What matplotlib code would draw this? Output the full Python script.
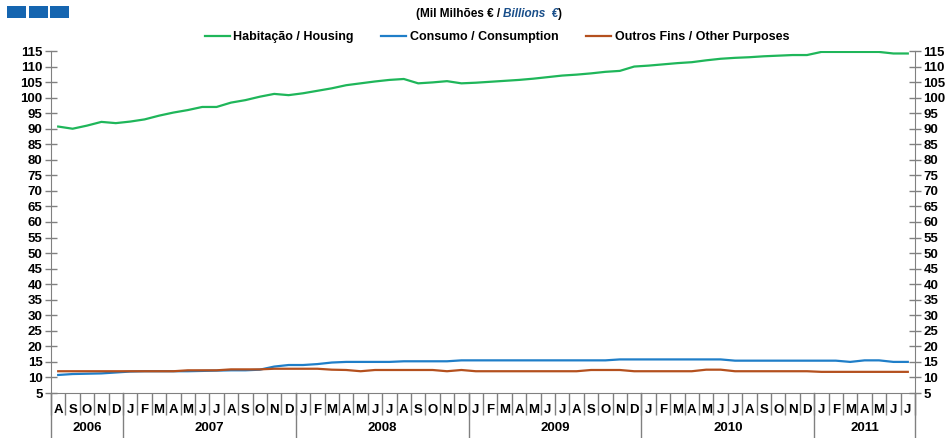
import matplotlib
matplotlib.use("Agg")
import matplotlib.pyplot as plt
import matplotlib.transforms as mtransforms
from matplotlib.patches import Rectangle
import numpy as np

plt.rcParams['font.family'] = ['Liberation Sans', 'DejaVu Sans']
plt.rcParams['font.weight'] = 'bold'

# monthly data, Aug 2006 .. Jul 2011 (thousand million euros)
months = ['A', 'S', 'O', 'N', 'D'] + ['J', 'F', 'M', 'A', 'M', 'J', 'J', 'A', 'S', 'O', 'N', 'D'] * 4 \
    + ['J', 'F', 'M', 'A', 'M', 'J', 'J']
years = ['2006', '2007', '2008', '2009', '2010', '2011']
year_months = [5, 12, 12, 12, 12, 7]

habitacao = [90.7, 90.0, 91.0, 92.2, 91.8,
             92.3, 93.0, 94.2, 95.2, 96.0, 97.0, 97.0, 98.4, 99.2, 100.3, 101.2, 100.8,
             101.4, 102.2, 103.0, 104.0, 104.6, 105.2, 105.7, 106.0, 104.6, 104.9, 105.3, 104.6,
             104.8, 105.1, 105.4, 105.7, 106.1, 106.6, 107.1, 107.4, 107.8, 108.3, 108.6, 110.0,
             110.3, 110.7, 111.1, 111.4, 112.0, 112.5, 112.8, 113.0, 113.3, 113.5, 113.7, 113.7,
             114.7, 114.7, 114.7, 114.7, 114.7, 114.2, 114.2]
consumo = [10.8, 11.1, 11.2, 11.3, 11.6,
           11.9, 12.0, 12.0, 12.0, 12.0, 12.1, 12.2, 12.3, 12.3, 12.5, 13.5, 14.0,
           14.0, 14.3, 14.8, 15.0, 15.0, 15.0, 15.0, 15.2, 15.2, 15.2, 15.2, 15.5,
           15.5, 15.5, 15.5, 15.5, 15.5, 15.5, 15.5, 15.5, 15.5, 15.5, 15.8, 15.8,
           15.8, 15.8, 15.8, 15.8, 15.8, 15.8, 15.4, 15.4, 15.4, 15.4, 15.4, 15.4,
           15.4, 15.4, 15.0, 15.5, 15.5, 15.0, 15.0]
outros = [12.0, 12.0, 12.0, 12.0, 12.0,
          12.0, 12.0, 12.0, 12.0, 12.3, 12.3, 12.3, 12.6, 12.6, 12.6, 12.8, 12.8,
          12.8, 12.8, 12.5, 12.4, 12.0, 12.4, 12.4, 12.4, 12.4, 12.4, 12.0, 12.4,
          12.0, 12.0, 12.0, 12.0, 12.0, 12.0, 12.0, 12.0, 12.4, 12.4, 12.4, 12.0,
          12.0, 12.0, 12.0, 12.0, 12.5, 12.5, 12.0, 12.0, 12.0, 12.0, 12.0, 12.0,
          11.8, 11.8, 11.8, 11.8, 11.8, 11.8, 11.8]

green = '#1fb65a'
blue = '#1f7ec8'
brown = '#b4501e'
axis_grey = '#808080'

fig = plt.figure(figsize=(9.5, 4.38), dpi=100)
ax = fig.add_axes([51 / 950, 45 / 438, 864 / 950, 342 / 438])

x = np.arange(len(months))
l1, = ax.plot(x, habitacao, color=green, lw=1.6, label='Habitação / Housing')
l2, = ax.plot(x, consumo, color=blue, lw=1.6, label='Consumo / Consumption')
l3, = ax.plot(x, outros, color=brown, lw=1.6, label='Outros Fins / Other Purposes')

ax.set_xlim(-0.5, len(months) - 0.5)
ax.set_ylim(5, 115)
ax.set_yticks(np.arange(5, 116, 5))
ax.tick_params(axis='y', direction='inout', length=8, width=1, color=axis_grey,
               labelsize=9.5, left=True, right=True, labelleft=True, labelright=True, pad=2)

for side in ['left', 'right', 'bottom']:
    ax.spines[side].set_color(axis_grey)
ax.spines['top'].set_visible(False)

# month labels centred on each month, separators between months
ax.set_xticks(x)
ax.set_xticklabels(months, fontsize=9.5, fontweight='bold')
ax.tick_params(axis='x', which='major', length=0, pad=8)
bounds = np.arange(len(months) + 1) - 0.5
ax.set_xticks(bounds, minor=True)
ax.tick_params(axis='x', which='minor', length=16, width=1, color=axis_grey, direction='out')

# year labels and longer year separators
trans = mtransforms.blended_transform_factory(ax.transData, fig.transFigure)
start = -0.5
for yr, n in zip(years, year_months):
    ax.text(start + n / 2, 1 - 428 / 438, yr, transform=trans, ha='center', va='center',
            fontsize=9.5, fontweight='bold')
    start += n
edges = np.cumsum([0] + year_months) - 0.5
for e in edges:
    ax.plot([e, e], [1 - 393 / 438, 0], transform=trans, color=axis_grey, lw=1, clip_on=False)

# legend
fig.legend(handles=[l1, l2, l3], loc='center', bbox_to_anchor=(497 / 950, 1 - 37 / 438), ncol=3,
           frameon=False, fontsize=9, handlelength=2.0, columnspacing=2.2, handletextpad=0.3)

# title in two colours
fig.canvas.draw()
r = fig.canvas.get_renderer()
ty = 1 - 14 / 438
parts = [('(Mil Milhões € / ', 'black', 'normal'), ('Billions  €', '#1a4f8a', 'italic'), (')', 'black', 'normal')]
texts = []
for s, c, st in parts:
    texts.append(fig.text(0, ty, s, color=c, style=st, fontsize=8.5, fontweight='bold', va='center'))
widths = [t.get_window_extent(r).width for t in texts]
xpos = 489 - sum(widths) / 2
for t, w in zip(texts, widths):
    t.set_x(xpos / 950)
    xpos += w

# logo squares
for i in range(3):
    fig.patches.append(Rectangle(((7 + i * 21.5) / 950, 1 - 18 / 438), 19 / 950, 12 / 438,
                                 transform=fig.transFigure, facecolor='#1565b0', edgecolor='none',
                                 zorder=5))

fig.savefig('out.png', dpi=100)
